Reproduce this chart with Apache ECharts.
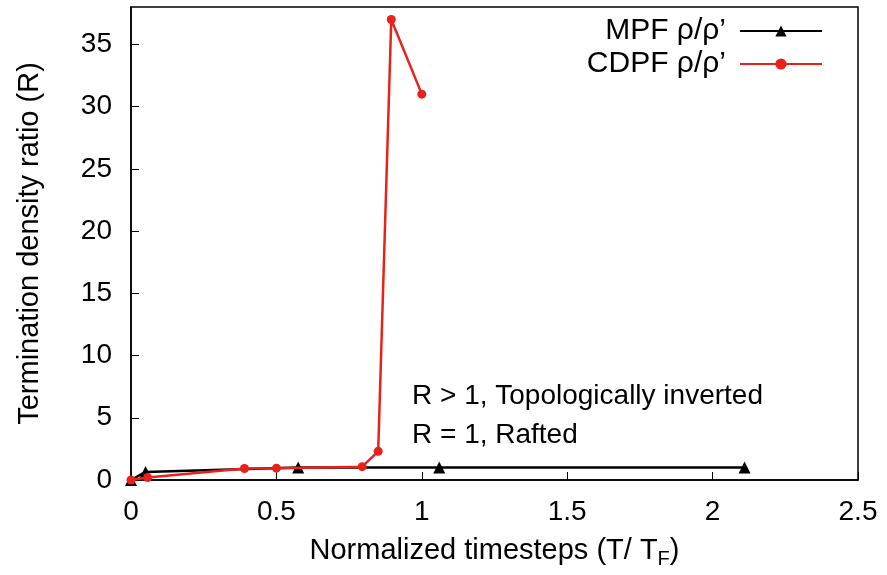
<!DOCTYPE html>
<html>
<head>
<meta charset="utf-8">
<script src="https://cdn.jsdelivr.net/npm/echarts@6/dist/echarts.min.js"></script>
<style>
html,body{margin:0;padding:0;background:#fff;}
#chart{width:887px;height:575px;}
</style>
</head>
<body>
<div id="chart"></div>
<script>
const mpfX = [0, 0.05, 0.575, 1.06, 2.11];
const mpfY = [0, 0.65, 1.0, 1.0, 1.0];
const cdpfX = [0, 0.057, 0.39, 0.50, 0.795, 0.85, 0.895, 1.0];
const cdpfY = [0, 0.2, 0.92, 0.95, 1.07, 2.3, 37.0, 31.0];
const xTicks = [0, 0.5, 1, 1.5, 2, 2.5];
const yTicks = [0, 5, 10, 15, 20, 25, 30, 35];
const seriesNames = ["MPF ρ/ρ’", "CDPF ρ/ρ’"];
const notes = ["R > 1, Topologically inverted", "R = 1, Rafted"];

const FONT = "Liberation Sans, Arial, sans-serif";
const FS = 28;
const FT = 29;

const chart = echarts.init(document.getElementById('chart'));
chart.setOption({
  animation: false,
  backgroundColor: '#fff',
  textStyle: {fontFamily: FONT},
  grid: {left: 131, right: 29, top: 7, bottom: 95, show: true, borderColor: '#000', borderWidth: 1.5, backgroundColor: 'transparent'},
  legend: {
    orient: 'vertical', right: 59, top: 11, align: 'right',
    itemWidth: 82, itemHeight: 14, itemGap: 3,
    textStyle: {fontSize: 30, color: '#000', fontFamily: FONT, padding: [0, 9, 0, 0]},
    data: seriesNames
  },
  xAxis: {
    type: 'value', min: xTicks[0], max: xTicks[xTicks.length-1], interval: 0.5,
    name: 'Normalized timesteps (T/ T{sub|F})', nameLocation: 'middle', nameGap: 53,
    nameTextStyle: {fontSize: FT, color: '#000', fontFamily: FONT,
      rich: {sub: {fontSize: 20, verticalAlign: 'bottom', padding: [16,0,0,0], fontFamily: FONT, color:'#000'}}},
    axisLine: {show: true, lineStyle: {color: '#000', width: 1.5}},
    axisTick: {show: true, inside: true, length: 8, lineStyle: {color: '#000', width: 1}},
    axisLabel: {fontSize: FS, color: '#000', margin: 18, fontFamily: FONT, formatter: v => String(v)},
    splitLine: {show: false}
  },
  yAxis: {
    type: 'value', min: 0, max: 38, interval: 5,
    name: 'Termination density ratio (R)', nameLocation: 'middle', nameGap: 87, nameRotate: 90,
    nameTextStyle: {fontSize: FT, color: '#000', fontFamily: FONT},
    axisLine: {show: true, lineStyle: {color: '#000', width: 1.5}},
    axisTick: {show: true, inside: true, length: 8, lineStyle: {color: '#000', width: 1}},
    axisLabel: {fontSize: FS, color: '#000', margin: 19, fontFamily: FONT, showMaxLabel: false,
      formatter: v => yTicks.includes(v) ? String(v) : ''},
    splitLine: {show: false}
  },
  graphic: [
    {type: 'text', left: 412, top: 382, style: {text: notes[0], font: FS + 'px ' + FONT, fill: '#000'}},
    {type: 'text', left: 412, top: 421, style: {text: notes[1], font: FS + 'px ' + FONT, fill: '#000'}}
  ],
  series: [
    {
      name: seriesNames[0], type: 'line',
      data: mpfX.map((x, i) => [x, mpfY[i]]),
      symbol: 'triangle', symbolSize: 12, showAllSymbol: true,
      itemStyle: {color: '#000'}, lineStyle: {color: '#000', width: 2.5}, z: 2
    },
    {
      name: seriesNames[1], type: 'line',
      data: cdpfX.map((x, i) => [x, cdpfY[i]]),
      symbol: 'circle', symbolSize: 9, showAllSymbol: true,
      itemStyle: {color: '#e8221b'}, lineStyle: {color: '#e8221b', width: 2.5}, z: 3
    }
  ]
});
</script>
</body>
</html>
